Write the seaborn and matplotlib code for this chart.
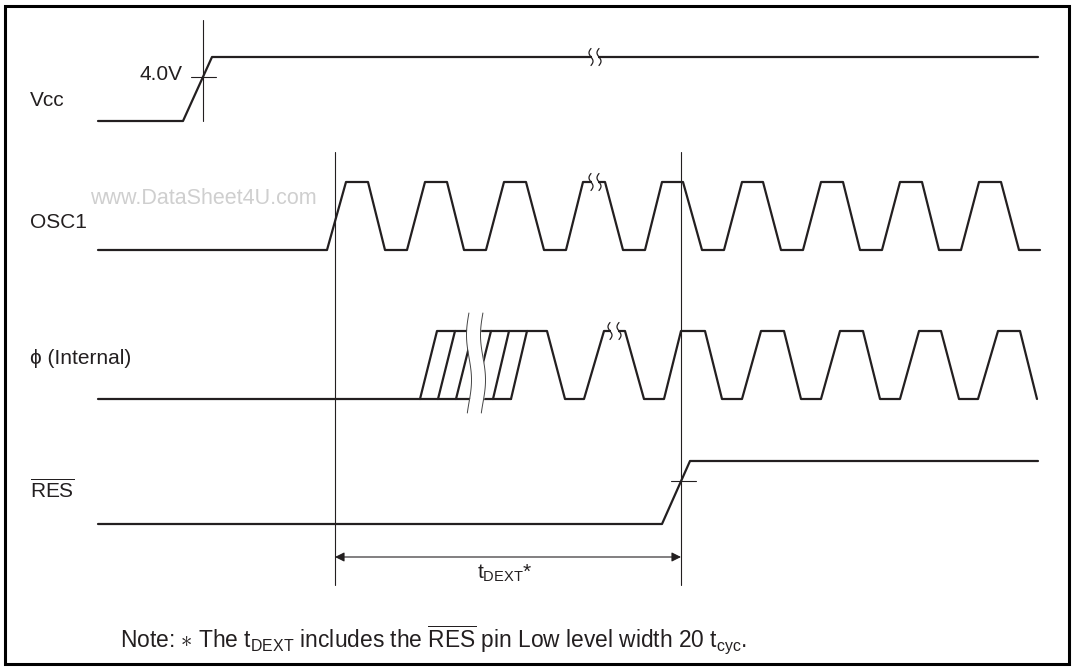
import numpy as np
import matplotlib
matplotlib.use("Agg")
import matplotlib.pyplot as plt
from matplotlib.patches import Rectangle
import seaborn as sns

sns.set_theme(style="white")
plt.rcParams["font.family"] = ["Liberation Sans", "DejaVu Sans"]
plt.rcParams["mathtext.fontset"] = "custom"
plt.rcParams["mathtext.rm"] = "Liberation Sans"
plt.rcParams["mathtext.it"] = "Liberation Sans:italic"
plt.rcParams["mathtext.bf"] = "Liberation Sans:bold"

# ---------------- data (time axis in drawing units, level 0 = low, 1 = high) ----------------
signal_labels = ["Vcc", "OSC1", "\u03d5 (Internal)", r"$\overline{\mathrm{RES}}$"]

vcc_t = [98, 183, 212, 1038]
vcc_level = [0, 0, 1, 1]

osc_t = [98, 327, 346, 368, 385, 407, 425, 447, 464, 486, 504, 526, 544, 566,
         583, 605, 623, 645, 662, 683, 702, 724, 742, 763, 781, 803, 821, 843,
         860, 882, 900, 922, 939, 961, 979, 1001, 1019, 1040]
osc_level = [0, 0, 1, 1, 0, 0, 1, 1, 0, 0, 1, 1, 0, 0, 1, 1, 0, 0, 1, 1,
             0, 0, 1, 1, 0, 0, 1, 1, 0, 0, 1, 1, 0, 0, 1, 1, 0, 0]

phi_t = [98, 420, 437, 547, 565, 584, 604, 625, 644, 664, 681, 705, 722, 742,
         761, 784, 801, 821, 840, 863, 880, 900, 919, 941, 959, 978, 998, 1020, 1037]
phi_level = [0, 0, 1, 1, 0, 0, 1, 1, 0, 0, 1, 1, 0, 0, 1, 1, 0, 0, 1, 1,
             0, 0, 1, 1, 0, 0, 1, 1, 0]

# uncertain-start region of phi: extra edges (start low -> end high) and its low rail
phi_hatch_start = [438, 456, 474, 493, 511]
phi_hatch_end = [455, 473, 491, 509, 527]
phi_hatch_low = [420, 511]

res_t = [98, 662, 690, 1038]
res_level = [0, 0, 1, 1]

marker_t = [335, 681]          # reference lines bounding t_DEXT
vcc_threshold_t = 203          # 4.0 V crossing
res_threshold_t = 681
break_vcc = [591, 599]
break_osc = [591, 599]
break_phi = [610, 619]
break_phi_wave = [469, 483]

threshold_label = "4.0V"
interval_label = r"t$_{\mathrm{DEXT}}$*"
note_text = (r"Note: $\ast$ The t$_{\mathrm{DEXT}}$ includes the "
             r"$\overline{\mathrm{RES}}$ pin Low level width 20 t$_{\mathrm{cyc}}$.")
watermark = "www.DataSheet4U.com"

# ---------------- layout / style ----------------
W, H = 1073, 668
row_high = {"vcc": 57, "osc": 182, "phi": 331, "res": 461}
row_low = {"vcc": 121, "osc": 250, "phi": 399, "res": 524}
INK = "#231f20"
SIG_LW = 1.6
THIN_LW = 0.8
FS = 15
FS_NOTE = 16.4
FS_WM = 15.5

fig = plt.figure(figsize=(W / 100, H / 100), dpi=100)
ax = fig.add_axes([0, 0, 1, 1])


def ypix(key, levels):
    lv = np.asarray(levels, dtype=float)
    return row_low[key] + lv * (row_high[key] - row_low[key])


def wave(t, levels, key, lw=SIG_LW, color=INK):
    sns.lineplot(x=np.asarray(t, dtype=float), y=ypix(key, levels), sort=False,
                 estimator=None, ax=ax, color=color, linewidth=lw, legend=False)


# signals
wave(vcc_t, vcc_level, "vcc")
wave(osc_t, osc_level, "osc")
wave(phi_t, phi_level, "phi")
wave(phi_hatch_low, [0, 0], "phi")
for a, b in zip(phi_hatch_start, phi_hatch_end):
    wave([a, b], [0, 1], "phi")
wave(res_t, res_level, "res")

# reference vertical lines
for xm in marker_t:
    ax.plot([xm, xm], [152, 585], color=INK, lw=THIN_LW)
ax.plot([vcc_threshold_t] * 2, [20, 121], color=INK, lw=THIN_LW)

# threshold crosshairs
def y_on(t, levels, key, x):
    return np.interp(x, t, ypix(key, levels))

yc = y_on(vcc_t, vcc_level, "vcc", vcc_threshold_t)
ax.plot([vcc_threshold_t - 12, vcc_threshold_t + 13], [yc, yc], color=INK, lw=THIN_LW)
yr = y_on(res_t, res_level, "res", res_threshold_t)
ax.plot([res_threshold_t - 10, res_threshold_t + 15], [yr, yr], color=INK, lw=THIN_LW)

# break marks
def break_mark(xs, key):
    yl = row_high[key]
    ax.plot([xs[0] + 1, xs[1] - 1], [yl, yl], color="white", lw=4, solid_capstyle="butt", zorder=4)
    s = np.linspace(0, 1, 40)
    for x0 in xs:
        ax.plot(x0 - 2.0 * np.sin(2 * np.pi * s), yl - 8.5 + 17 * s,
                color=INK, lw=0.9, zorder=5)

break_mark(break_vcc, "vcc")
break_mark(break_osc, "osc")
break_mark(break_phi, "phi")

# wavy break on the uncertain phi region
yy = np.linspace(313, 413, 80)
dx = -2.5 * np.cos(2 * np.pi * (yy - 335) / 90)
xl = break_phi_wave[0] + dx
xr = break_phi_wave[1] + dx
ax.fill_betweenx(yy, xl + 0.6, xr - 0.6, color="white", zorder=4)
ax.plot(xl, yy, color="#444444", lw=0.7, zorder=5)
ax.plot(xr, yy, color="#444444", lw=0.7, zorder=5)

# t_DEXT arrow
ax.annotate("", xy=(marker_t[0], 557), xytext=(marker_t[1], 557),
            arrowprops=dict(arrowstyle="<|-|>", color=INK, lw=THIN_LW,
                            mutation_scale=14, shrinkA=0, shrinkB=0))
ax.text((marker_t[0] + marker_t[1]) / 2 - 3, 573, interval_label, fontsize=FS,
        color=INK, ha="center", va="center")

# labels
label_y = [100, 222, 358, 490]
for lab, y in zip(signal_labels, label_y):
    ax.text(30, y, lab, fontsize=FS, color=INK, ha="left", va="center")
ax.text(183, 75, threshold_label, fontsize=FS, color=INK, ha="right", va="center")
ax.text(90, 198, watermark, fontsize=FS_WM, color="#cfcfcf", ha="left", va="center")
ax.text(120, 640, note_text, fontsize=FS_NOTE, color=INK, ha="left", va="center")

# frame
ax.add_patch(Rectangle((5, 6), 1064, 658, fill=False, edgecolor="black", lw=2.2))

ax.set_xlim(0, W)
ax.set_ylim(H, 0)
ax.axis("off")
fig.savefig("out.png", dpi=100, facecolor="white")
